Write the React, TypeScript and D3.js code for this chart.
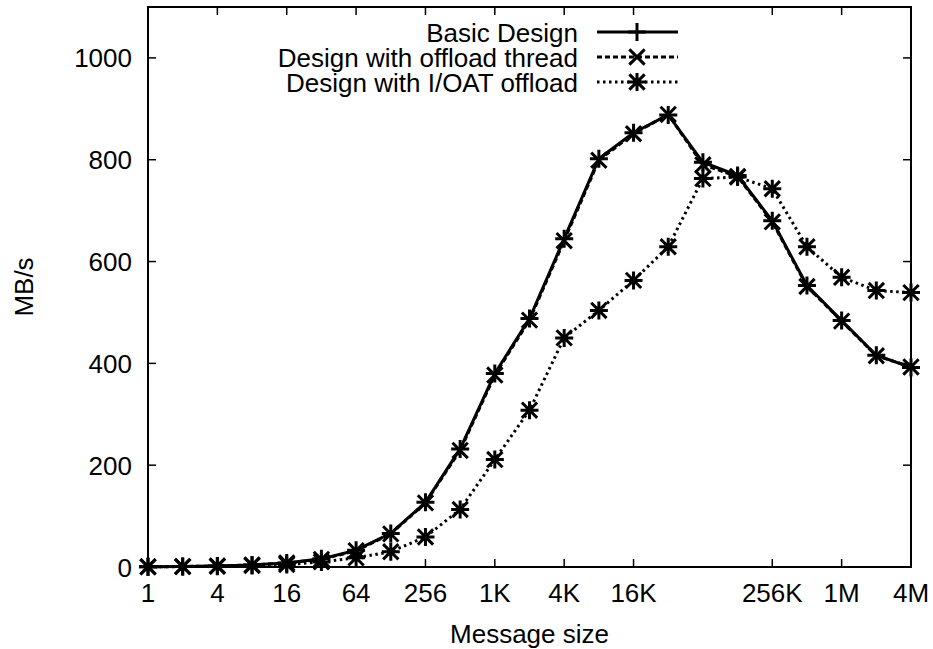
import { useEffect, useRef } from "react";
import * as d3 from "d3";

const sizes = [
  1, 2, 4, 8, 16, 32, 64, 128, 256, 512, 1024, 2048, 4096, 8192, 16384, 32768,
  65536, 131072, 262144, 524288, 1048576, 2097152, 4194304,
];
const basicDesign = [0.5, 1, 2, 4, 8, 16, 33, 66, 127, 232, 380, 488, 645, 802, 853, 888, 795, 769, 680, 553, 484, 416, 392];
const offloadThread = [0.5, 1, 2, 4, 8, 15, 32, 65, 126, 229, 377, 485, 641, 799, 851, 889, 790, 767, 678, 551, 483, 415, 393];
const ioatOffload = [0.4, 0.8, 1.5, 3, 5, 10, 18, 30, 59, 113, 211, 308, 450, 504, 563, 629, 763, 766, 743, 629, 569, 543, 539];

const xTicks = [1, 4, 16, 64, 256, 1024, 4096, 16384, 262144, 1048576, 4194304];
const yTicks = [0, 200, 400, 600, 800, 1000];

type Series = { name: string; values: number[]; dash: string | null; marker: "plus" | "cross" | "star" };

const series: Series[] = [
  { name: "Basic Design", values: basicDesign, dash: null, marker: "plus" },
  { name: "Design with offload thread", values: offloadThread, dash: "5,3", marker: "cross" },
  { name: "Design with I/OAT offload", values: ioatOffload, dash: "2.5,3.5", marker: "star" },
];

function sizeLabel(v: number) {
  if (v >= 1048576) return `${v / 1048576}M`;
  if (v >= 1024) return `${v / 1024}K`;
  return `${v}`;
}

function markerPath(kind: string, r: number) {
  const plus = `M${-r},0H${r}M0,${-r}V${r}`;
  const c = r * 0.85;
  const cross = `M${-c},${-c}L${c},${c}M${-c},${c}L${c},${-c}`;
  if (kind === "plus") return plus;
  if (kind === "cross") return cross;
  return plus + cross;
}

const font = "'Liberation Sans', Arial, Helvetica, sans-serif";

export default function App() {
  const svgRef = useRef<SVGSVGElement | null>(null);

  useEffect(() => {
    const width = 933;
    const height = 649;
    const left = 148, right = 911, top = 7, bottom = 567;
    const fontSize = 26;

    const svg = d3.select(svgRef.current);
    svg.selectAll("*").remove();
    svg.attr("width", width).attr("height", height)
      .style("font-family", font).style("font-size", `${fontSize}px`);

    const x = d3.scaleLog().base(2).domain([1, 4194304]).range([left, right]);
    const y = d3.scaleLinear().domain([0, 1100]).range([bottom, top]);

    const axes = svg.append("g").attr("stroke", "#000").attr("stroke-width", 1.5);
    const tick = 8;

    // x ticks, mirrored on top
    xTicks.forEach(t => {
      axes.append("line").attr("x1", x(t)).attr("x2", x(t)).attr("y1", bottom).attr("y2", bottom - tick);
      axes.append("line").attr("x1", x(t)).attr("x2", x(t)).attr("y1", top).attr("y2", top + tick);
    });
    // y ticks, mirrored on right
    yTicks.forEach(t => {
      axes.append("line").attr("x1", left).attr("x2", left + tick).attr("y1", y(t)).attr("y2", y(t));
      axes.append("line").attr("x1", right).attr("x2", right - tick).attr("y1", y(t)).attr("y2", y(t));
    });

    svg.append("rect")
      .attr("x", left).attr("y", top)
      .attr("width", right - left).attr("height", bottom - top)
      .attr("fill", "none").attr("stroke", "#000").attr("stroke-width", 2);

    svg.append("g").selectAll("text")
      .data(xTicks).enter().append("text")
      .attr("x", d => x(d)).attr("y", 602)
      .attr("text-anchor", "middle")
      .text(d => sizeLabel(d));

    svg.append("g").selectAll("text")
      .data(yTicks).enter().append("text")
      .attr("x", 132).attr("y", d => y(d) + 9.5)
      .attr("text-anchor", "end")
      .text(d => d);

    svg.append("text")
      .attr("x", (left + right) / 2).attr("y", 643)
      .attr("text-anchor", "middle")
      .text("Message size");

    svg.append("text")
      .attr("transform", `translate(33,${(top + bottom) / 2}) rotate(-90)`)
      .attr("text-anchor", "middle")
      .text("MB/s");

    const line = d3.line<number>()
      .x((_, i) => x(sizes[i]))
      .y(d => y(d));

    series.forEach((s, k) => {
      svg.append("path")
        .attr("d", line(s.values))
        .attr("fill", "none")
        .attr("stroke", "#000")
        .attr("stroke-width", 3)
        .attr("stroke-dasharray", s.dash)
        .attr("stroke-linejoin", "round");

      svg.append("g").selectAll("path")
        .data(s.values).enter().append("path")
        .attr("transform", (d, i) => `translate(${x(sizes[i])},${y(d)})`)
        .attr("d", markerPath(s.marker, 9))
        .attr("stroke", "#000")
        .attr("stroke-width", 3)
        .attr("fill", "none");

      // legend entry
      const ly = 32 + k * 25;
      svg.append("text")
        .attr("x", 578).attr("y", ly + 9.5)
        .attr("text-anchor", "end")
        .text(s.name);
      svg.append("line")
        .attr("x1", 597).attr("x2", 678).attr("y1", ly).attr("y2", ly)
        .attr("stroke", "#000").attr("stroke-width", 3)
        .attr("stroke-dasharray", s.dash);
      svg.append("path")
        .attr("transform", `translate(637,${ly})`)
        .attr("d", markerPath(s.marker, 9))
        .attr("stroke", "#000").attr("stroke-width", 3)
        .attr("fill", "none");
    });
  }, []);

  return (
    <svg ref={svgRef} width={933} height={649}
      style={{ position: "absolute", left: 0, top: 0, background: "#fff" }}></svg>
  );
}
